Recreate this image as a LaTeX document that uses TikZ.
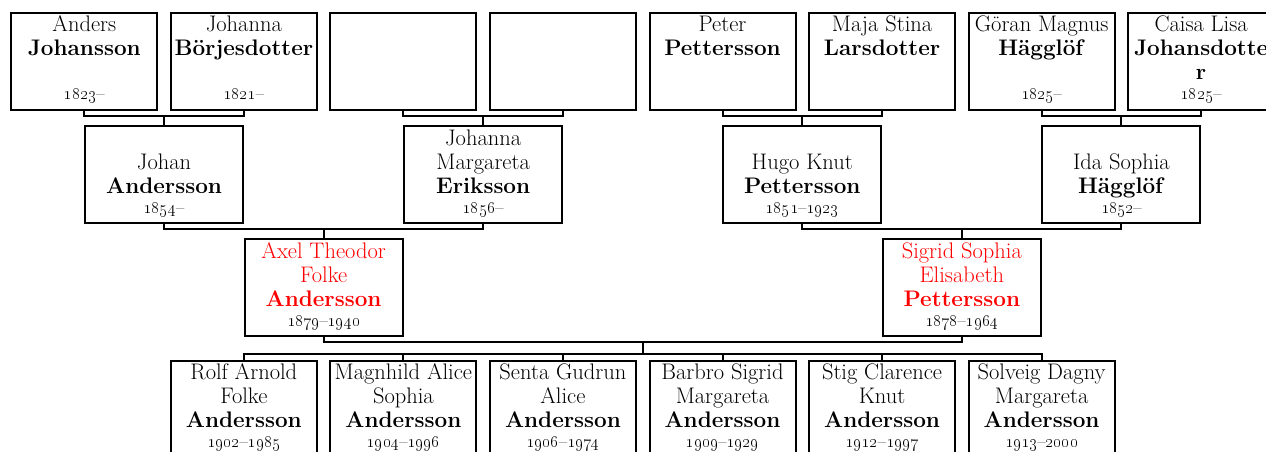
\documentclass[tikz,border=0pt]{standalone}
\usetikzlibrary{calc}
\definecolor{namered}{RGB}{255,0,0}
\tikzset{
  box/.style={draw, line width=2pt, minimum width=146pt, minimum height=96.5pt, inner sep=0pt, outer sep=0pt},
  wbox/.style={box, minimum width=158pt},
  conn/.style={line width=2pt},
  nm/.style={inner sep=0pt, anchor=base, font=\fontsize{22.5}{24}\selectfont},
  dt/.style={inner sep=0pt, anchor=base, font=\fontsize{18}{20}\selectfont},
}
\newcommand\stackt[1]{\begin{tabular}[t]{@{}c@{}}#1\end{tabular}}
\newcommand\stackb[1]{\begin{tabular}[b]{@{}c@{}}#1\end{tabular}}
\newcommand\yr[1]{\oldstylenums{#1}}
\newcommand\toptext[3]{%
  \node[nm] (#1n) at ($(#1.north)+(0,18)$) {\stackt{#2}};
  \node[dt] (#1d) at ($(#1.south)+(0,-10.3)$) {#3};}
\newcommand\bottext[4]{%
  \node[nm,text=#4] (#1n) at ($(#1.south)+(0,-29.5)$) {\stackb{#2}};
  \node[dt] (#1d) at ($(#1.south)+(0,-9.5)$) {#3};}
\begin{document}
\begin{tikzpicture}[x=1pt,y=-1pt]
\useasboundingbox (0,0) rectangle (1266,451);
% great-grandparents
\node[box] (p1) at (84.3,61.7) {};
\node[box] (p2) at (243.85,61.7) {};
\node[box] (p3) at (403.4,61.7) {};
\node[box] (p4) at (562.95,61.7) {};
\node[box] (p5) at (722.5,61.7) {};
\node[box] (p6) at (882.05,61.7) {};
\node[box] (p7) at (1041.6,61.7) {};
\node[box] (p8) at (1201.15,61.7) {};
\toptext{p1}{Anders\\\textbf{Johansson}}{\yr{1823}–}
\toptext{p2}{Johanna\\\textbf{Börjesdotter}}{\yr{1821}–}
\toptext{p5}{Peter\\\textbf{Pettersson}}{}
\toptext{p6}{Maja Stina\\\textbf{Larsdotter}}{}
\toptext{p7}{Göran Magnus\\\textbf{Hägglöf}}{\yr{1825}–}
\toptext{p8}{Caisa Lisa\\\textbf{Johansdotte}\\\textbf{r}}{\yr{1825}–}
% grandparents
\node[wbox] (g1) at (164.08,174.3) {};
\node[wbox] (g2) at (483.18,174.3) {};
\node[wbox] (g3) at (802.28,174.3) {};
\node[wbox] (g4) at (1121.38,174.3) {};
\bottext{g1}{Johan\\\textbf{Andersson}}{\yr{1854}–}{black}
\bottext{g2}{Johanna\\Margareta\\\textbf{Eriksson}}{\yr{1856}–}{black}
\bottext{g3}{Hugo Knut\\\textbf{Pettersson}}{\yr{1851}–\yr{1923}}{black}
\bottext{g4}{Ida Sophia\\\textbf{Hägglöf}}{\yr{1852}–}{black}
% parents
\node[wbox] (ax) at (323.63,287.5) {};
\node[wbox] (sg) at (961.83,287.5) {};
\bottext{ax}{Axel Theodor\\Folke\\\textbf{Andersson}}{\yr{1879}–\yr{1940}}{namered}
\bottext{sg}{Sigrid Sophia\\Elisabeth\\\textbf{Pettersson}}{\yr{1878}–\yr{1964}}{namered}
% children
\node[box] (k1) at (243.85,408.8) {};
\node[box] (k2) at (403.4,408.8) {};
\node[box] (k3) at (562.95,408.8) {};
\node[box] (k4) at (722.5,408.8) {};
\node[box] (k5) at (882.05,408.8) {};
\node[box] (k6) at (1041.6,408.8) {};
\bottext{k1}{Rolf Arnold\\Folke\\\textbf{Andersson}}{\yr{1902}–\yr{1985}}{black}
\bottext{k2}{Magnhild Alice\\Sophia\\\textbf{Andersson}}{\yr{1904}–\yr{1996}}{black}
\bottext{k3}{Senta Gudrun\\Alice\\\textbf{Andersson}}{\yr{1906}–\yr{1974}}{black}
\bottext{k4}{Barbro Sigrid\\Margareta\\\textbf{Andersson}}{\yr{1909}–\yr{1929}}{black}
\bottext{k5}{Stig Clarence\\Knut\\\textbf{Andersson}}{\yr{1912}–\yr{1997}}{black}
\bottext{k6}{Solveig Dagny\\Margareta\\\textbf{Andersson}}{\yr{1913}–\yr{2000}}{black}
% connectors: great-grandparents -> grandparents
\draw[conn] (p1.south) -- ++(0,6) coordinate (b1) -| (p2.south);
\draw[conn] (g1.north) -- (g1.north |- b1);
\draw[conn] (p3.south) -- ++(0,6) coordinate (b2) -| (p4.south);
\draw[conn] (g2.north) -- (g2.north |- b2);
\draw[conn] (p5.south) -- ++(0,6) coordinate (b3) -| (p6.south);
\draw[conn] (g3.north) -- (g3.north |- b3);
\draw[conn] (p7.south) -- ++(0,6) coordinate (b4) -| (p8.south);
\draw[conn] (g4.north) -- (g4.north |- b4);
% grandparents -> parents
\draw[conn] (g1.south) -- ++(0,6) coordinate (b5) -| (g2.south);
\draw[conn] (ax.north) -- (ax.north |- b5);
\draw[conn] (g3.south) -- ++(0,6) coordinate (b6) -| (g4.south);
\draw[conn] (sg.north) -- (sg.north |- b6);
% parents -> children
\draw[conn] (ax.south) -- ++(0,6.5) coordinate (cb) -| (sg.south);
\coordinate (cm) at ($(ax.south)!0.5!(sg.south)$);
\draw[conn] (k1.north) -- ++(0,-6.7) coordinate (kb) -| (k6.north);
\draw[conn] (cm |- cb) -- (cm |- kb);
\draw[conn] (k2.north) -- (k2.north |- kb);
\draw[conn] (k3.north) -- (k3.north |- kb);
\draw[conn] (k4.north) -- (k4.north |- kb);
\draw[conn] (k5.north) -- (k5.north |- kb);
\end{tikzpicture}
\end{document}
